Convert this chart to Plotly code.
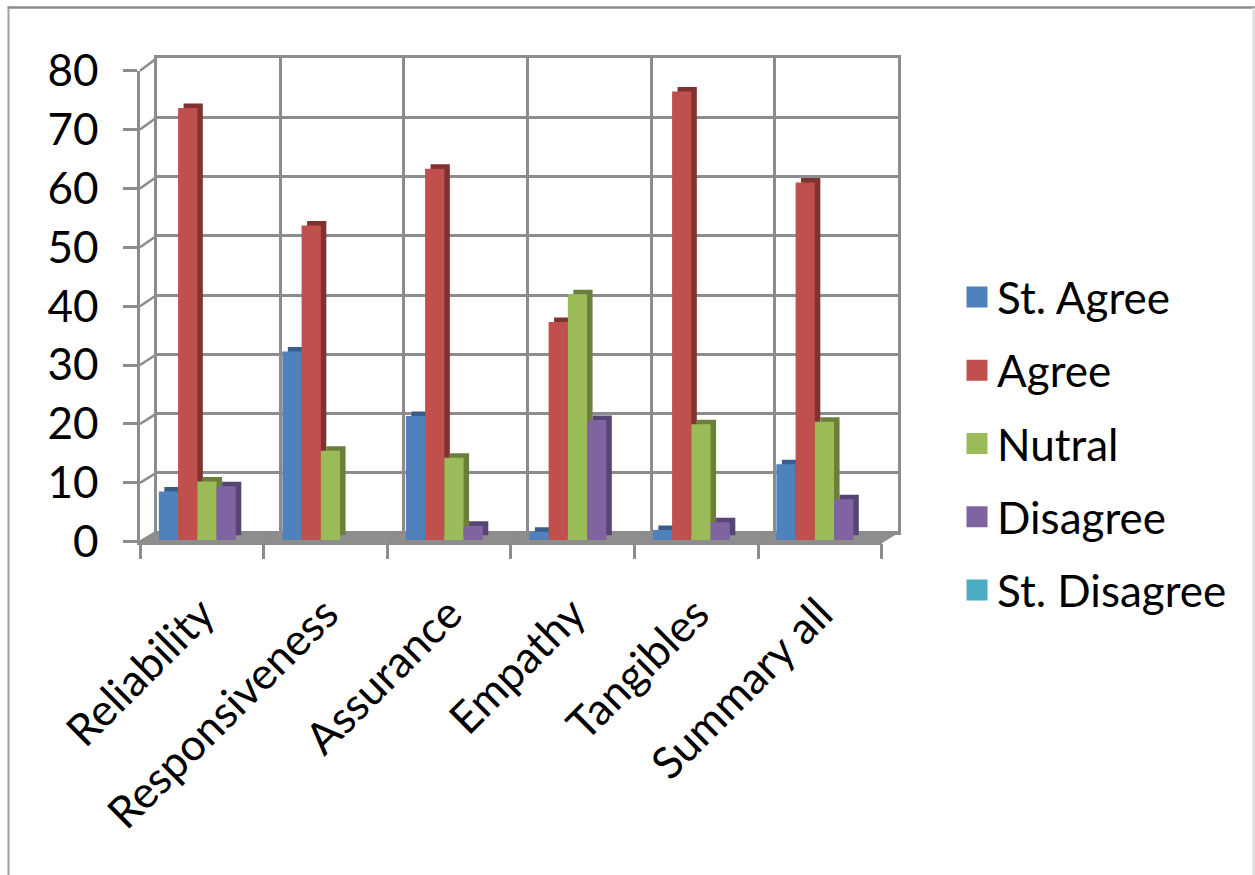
import plotly.graph_objects as go

# ---------------- data ----------------
categories = ["Reliability", "Responsiveness", "Assurance", "Empathy", "Tangibles", "Summary all"]
series_names = ["St. Agree", "Agree", "Nutral", "Disagree", "St. Disagree"]
st_agree = [8.2, 31.9, 21.0, 1.4, 1.7, 12.8]
agree = [73.1, 53.2, 62.8, 36.9, 75.9, 60.5]
nutral = [9.9, 15.1, 13.9, 41.6, 19.6, 20.0]
disagree = [9.1, 0.0, 2.4, 20.3, 3.0, 6.9]
st_disagree = [0.0, 0.0, 0.0, 0.0, 0.0, 0.0]
y_tick_values = [0, 10, 20, 30, 40, 50, 60, 70, 80]

series_values = [st_agree, agree, nutral, disagree, st_disagree]
front_colors = ["#4F81BD", "#C0504D", "#9BBB59", "#8064A2", "#4BACC6"]
side_colors = ["#385D8A", "#7F3230", "#6A7F3A", "#574675", "#2E7E92"]

# ---------------- geometry helpers (pixels -> paper) ----------------
W, H = 1255, 875
def px(x):
    return x / W
def py(y):
    return 1 - y / H

FONT = "Lato"
GRID = "#8c8c8c"

# front axis frame
FX0, FX1 = 140.0, 881.7
FY0, FY80 = 541.7, 70.7
# back wall
BX0, BX1 = 156.7, 898.3
BY0, BY80 = 531.7, 58.3
# bar faces
BAR_X0, BAR_X1 = 145.2, 886.2
BAR_Y0 = 540.0
BAR_SCALE = 5.91
DX, DY = 5.5, 4.5

fig = go.Figure()
n = len(categories)
idx = list(range(n))

# anchors so that the wall and front-axis subplots are drawn
fig.add_trace(go.Scatter(x=idx, y=[None] * n, mode="markers", xaxis="x", yaxis="y",
                         showlegend=False, hoverinfo="skip"))
fig.add_trace(go.Scatter(x=idx, y=[None] * n, mode="markers", xaxis="x2", yaxis="y2",
                         showlegend=False, hoverinfo="skip"))

# depth (side/top) faces
for name, vals, col in zip(series_names, series_values, side_colors):
    fig.add_trace(go.Bar(x=idx, y=vals, name=name, marker=dict(color=col, line=dict(width=0)),
                         xaxis="x3", yaxis="y3", showlegend=False, hoverinfo="skip"))
# front faces
for name, vals, col in zip(series_names, series_values, front_colors):
    fig.add_trace(go.Bar(x=idx, y=vals, name=name, marker=dict(color=col, line=dict(width=0)),
                         xaxis="x4", yaxis="y4", showlegend=False))
# legend entries
for name, col in zip(series_names, front_colors):
    fig.add_trace(go.Scatter(x=[None], y=[None], mode="markers", name=name, legendgroup=name,
                             marker=dict(symbol="square", size=16, color=col,
                                         line=dict(color=col, width=5)),
                             xaxis="x4", yaxis="y4"))

bounds = [i - 0.5 for i in range(n + 1)]

shapes = []
# floor
shapes.append(dict(type="path", xref="paper", yref="paper", layer="below",
                   path=f"M{px(FX0)},{py(FY0)} L{px(FX1)},{py(FY0)} L{px(BX1)},{py(BY0)} L{px(BX0)},{py(BY0)} Z",
                   fillcolor="#8e8e8e", line=dict(color=GRID, width=1.5)))
# floor diagonals at category boundaries
fstep = (FX1 - FX0) / n
bstep = (BX1 - BX0) / n
for k in range(n + 1):
    shapes.append(dict(type="line", xref="paper", yref="paper", layer="below",
                       x0=px(FX0 + k * fstep), y0=py(FY0), x1=px(BX0 + k * bstep), y1=py(BY0),
                       line=dict(color=GRID, width=2.5)))
# left wall diagonals at each y tick
for v in y_tick_values:
    yf = FY0 - (FY0 - FY80) * v / 80
    yb = BY0 - (BY0 - BY80) * v / 80
    shapes.append(dict(type="line", xref="paper", yref="paper", layer="below",
                       x0=px(FX0), y0=py(yf), x1=px(BX0), y1=py(yb),
                       line=dict(color=GRID, width=2.5)))
# outer chart frame
shapes.append(dict(type="line", xref="paper", yref="paper", x0=px(7.5), y0=py(7.5), x1=1, y1=py(7.5),
                   line=dict(color="#8a8a8a", width=2.5)))
shapes.append(dict(type="line", xref="paper", yref="paper", x0=px(8.5), y0=py(7.5), x1=px(8.5), y1=0,
                   line=dict(color="#a0a0a0", width=2)))
shapes.append(dict(type="line", xref="paper", yref="paper", x0=px(1253.5), y0=py(7.5), x1=px(1253.5), y1=0,
                   line=dict(color="#dadada", width=2)))

hidden = dict(visible=False, showgrid=False, zeroline=False, fixedrange=True, automargin=False)

fig.update_layout(
    width=W, height=H,
    margin=dict(l=0, r=0, t=0, b=0, autoexpand=False),
    paper_bgcolor="white", plot_bgcolor="rgba(0,0,0,0)",
    font=dict(family=FONT, color="black", size=44),
    barmode="group", bargap=0.221, bargroupgap=0,
    shapes=shapes,
    showlegend=True,
    legend=dict(x=px(957), y=py(262), xanchor="left", yanchor="top",
                font=dict(family=FONT, size=44, color="black"),
                traceorder="grouped", tracegroupgap=13, itemwidth=30,
                bgcolor="rgba(0,0,0,0)"),
    # back wall
    xaxis=dict(domain=[px(BX0), px(BX1)], range=[-0.5, 5.5], anchor="y", automargin=False,
               tickvals=bounds, showticklabels=False, ticks="",
               showgrid=True, gridcolor=GRID, gridwidth=2.5,
               showline=True, mirror=True, linecolor=GRID, linewidth=2.5, zeroline=False, fixedrange=True),
    yaxis=dict(domain=[py(BY0), py(BY80)], range=[0, 80], anchor="x", automargin=False,
               tickvals=y_tick_values, showticklabels=False, ticks="",
               showgrid=True, gridcolor=GRID, gridwidth=2.5,
               showline=True, mirror=True, linecolor=GRID, linewidth=2.5, zeroline=False, fixedrange=True),
    # front axes with labels
    xaxis2=dict(domain=[px(FX0), px(FX1)], range=[-0.5, 5.5], anchor="y2", automargin=False,
                tickvals=idx, ticktext=categories, tickangle=-45,
                ticks="outside", ticklen=15, tickcolor="rgba(0,0,0,0)", tickwidth=2.5,
                ticklabelstandoff=11,
                minor=dict(tickvals=bounds, ticks="outside", ticklen=15, tickcolor=GRID, tickwidth=2.5, showgrid=False),
                tickfont=dict(family=FONT, size=44, color="black"),
                showline=True, linecolor=GRID, linewidth=2.5, showgrid=False, zeroline=False, fixedrange=True),
    yaxis2=dict(domain=[py(FY0), py(FY80)], range=[0, 80], anchor="x2", automargin=False,
                tickvals=y_tick_values, ticks="outside", ticklen=14, tickcolor=GRID, tickwidth=2.5,
                tickfont=dict(family=FONT, size=44, color="black"), ticklabelstandoff=16,
                showline=True, linecolor=GRID, linewidth=2.5, showgrid=False, zeroline=False, fixedrange=True),
    # depth faces
    xaxis3=dict(domain=[px(BAR_X0 + DX), px(BAR_X1 + DX)], range=[-0.5, 5.5], anchor="y3", **hidden),
    yaxis3=dict(domain=[py(BAR_Y0 - DY), py(BAR_Y0 - DY - 80 * BAR_SCALE)], range=[0, 80], anchor="x3", **hidden),
    # front faces
    xaxis4=dict(domain=[px(BAR_X0), px(BAR_X1)], range=[-0.5, 5.5], anchor="y4", **hidden),
    yaxis4=dict(domain=[py(BAR_Y0), py(BAR_Y0 - 80 * BAR_SCALE)], range=[0, 80], anchor="x4", **hidden),
)

fig.write_html("out.html")
